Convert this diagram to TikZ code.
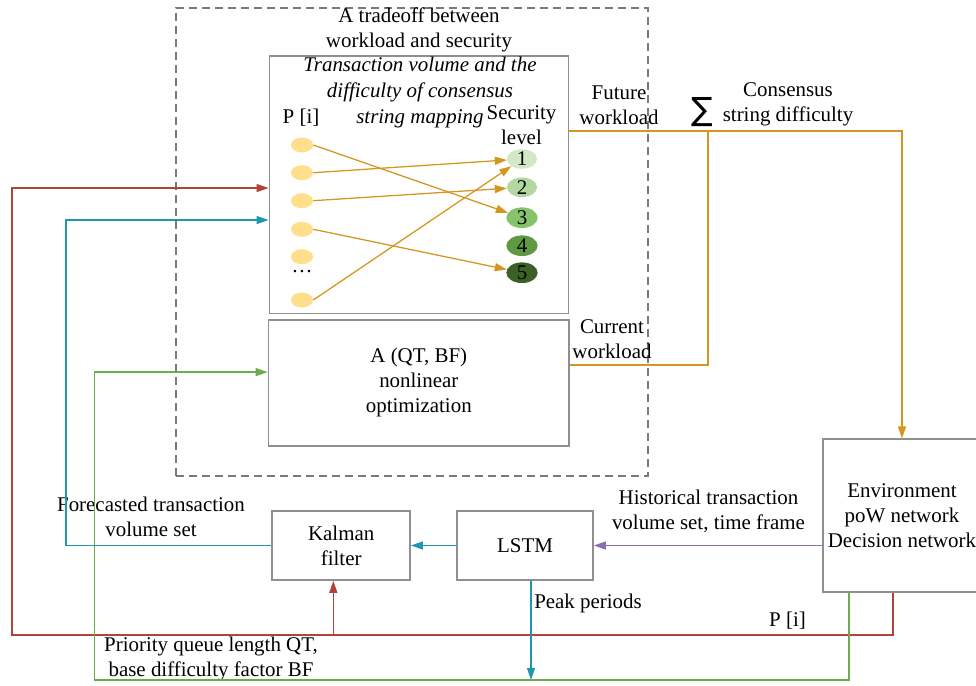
\documentclass[tikz,border=0pt]{standalone}
\usepackage{fontspec}
\setmainfont{Liberation Serif}
\newfontfamily\symfont{DejaVu Sans}
\usetikzlibrary{arrows.meta,calc,shapes.geometric}

\definecolor{framegray}{HTML}{8F8F8F}
\definecolor{dashgray}{HTML}{7A7A7A}
\definecolor{cOrange}{HTML}{D4961E}
\definecolor{cRed}{HTML}{B0443A}
\definecolor{cTeal}{HTML}{1E98AC}
\definecolor{cGreen}{HTML}{6EAA50}
\definecolor{cPurple}{HTML}{8C6EAF}
\definecolor{cYellow}{HTML}{FFDF8C}
\definecolor{lvA}{HTML}{D3E8C5}
\definecolor{lvB}{HTML}{B2D8A0}
\definecolor{lvC}{HTML}{86C46C}
\definecolor{lvD}{HTML}{5E9A42}
\definecolor{lvE}{HTML}{3B6126}

\begin{document}
\begin{tikzpicture}[x=0.75pt,y=-0.75pt,
  font=\fontsize{15.7pt}{18.75pt}\selectfont,
  gbox/.style={draw=framegray,line width=1.3pt,rectangle,inner sep=0pt,align=center},
  lbl/.style={inner sep=0pt,align=center},
  tip/.style={-{Triangle[length=9pt,width=6pt]}},
  oline/.style={draw=cOrange,line width=0.95pt},
  rline/.style={draw=cRed,line width=0.95pt,color=cRed},
  tline/.style={draw=cTeal,line width=0.95pt,color=cTeal},
  gline/.style={draw=cGreen,line width=0.95pt,color=cGreen},
  pline/.style={draw=cPurple,line width=0.95pt,color=cPurple},
  pdot/.style={ellipse,fill=cYellow,inner sep=0pt,minimum width=16.5pt,minimum height=11.25pt},
  lvsmall/.style={ellipse,inner sep=0pt,minimum width=22.5pt,minimum height=11.5pt},
  lvbig/.style={ellipse,inner sep=0pt,minimum width=23.5pt,minimum height=15.5pt},
  arr/.style={draw=cOrange,color=cOrange,line width=0.95pt,tip}]

\useasboundingbox (0,0) rectangle (976,686);

% dashed frame around the tradeoff stage
\node[draw=dashgray,line width=0.9pt,dash pattern=on 6pt off 3.75pt,
      minimum width=354pt,minimum height=351pt,inner sep=0pt] (frame) at (412,242) {};
\node[lbl] (ttl) at (419,30) {A tradeoff between\\workload and security};

% mapping box and optimisation box
\node[gbox,minimum width=224.3pt,minimum height=193pt] (map) at (419,184.7) {};
\node[gbox,minimum width=225.4pt,minimum height=94.3pt] (opt) at (418.8,382.9)
  {A (QT, BF)\\nonlinear\\optimization};
\node[lbl,font=\fontsize{15.7pt}{19.2pt}\selectfont\itshape] (maptxt) at (420,92.5)
  {Transaction volume and the\\difficulty of consensus\\string mapping};
\node[lbl] (pi) at (301,118) {P [i]};
\node[lbl] (sec) at (521.5,125) {Security\\level};

% transaction priorities
\node[pdot] (p1) at (302,145) {};
\node[pdot] (p2) at (302,172.7) {};
\node[pdot] (p3) at (302,200.7) {};
\node[pdot] (p4) at (302,229.3) {};
\node[pdot] (p5) at (302,256.7) {};
\node[lbl] (pdots) at (302,272) {…};
\node[pdot] (p6) at (302,300) {};

% security levels
\node[lvsmall,fill=lvA] (s1) at (522,159) {1};
\node[lvsmall,fill=lvB] (s2) at (522,187.3) {2};
\node[lvbig,fill=lvC] (s3) at (522,217.7) {3};
\node[lvbig,fill=lvD] (s4) at (522,245.7) {4};
\node[lvbig,fill=lvE] (s5) at (522,272.7) {5};

\draw[arr] (p1.east) -- (s3);
\draw[arr] (p2.east) -- (s1);
\draw[arr] (p3.east) -- (s2);
\draw[arr] (p4.east) -- (s5);
\draw[arr] (p6.east) -- (s1);

% lower pipeline boxes
\node[gbox,minimum width=118pt,minimum height=114.3pt] (env) at (902,515.5)
  {Environment\\poW network\\Decision network};
\node[gbox,minimum width=102pt,minimum height=51.75pt] (lstm) at (525,545.5) {LSTM};
\node[gbox,minimum width=103.3pt,minimum height=51.75pt] (kal) at (341.2,545.5) {Kalman\\filter};

% labels of the connectors
\node[lbl] (fut) at (619,105) {Future\\workload};
\node[lbl,font=\fontsize{24pt}{24pt}\selectfont\symfont] (sig) at (702.5,112) {∑};
\node[lbl] (cons) at (788,104) {Consensus\\string difficulty};
\node[lbl] (cur) at (612,339) {Current\\workload};
\node[lbl] (hist) at (708.5,511) {Historical transaction\\volume set, time frame};
\node[lbl,anchor=west] (peak) at (534,603) {Peak periods};
\node[lbl] (pib) at (787.5,621) {P [i]};
\node[lbl] (fore) at (151,517) {Forecasted transaction\\volume set};
\node[lbl] (prio) at (211,659) {Priority queue length QT,\\base difficulty factor BF};

% corner points of the feedback loops
\coordinate (fjoin) at (708,131);
\coordinate (rcorner) at (12,635);
\coordinate (tcorner) at (66,543);
\coordinate (gcorner) at (94.5,680);
\coordinate (kin) at ([xshift=-5.9pt]kal.south);
\coordinate (pk) at ([xshift=4.5pt]lstm.south);
\coordinate (rout) at ([xshift=-6.75pt]env.south);
\coordinate (gout) at ([xshift=-39.75pt]env.south);

% workload -> consensus difficulty -> environment
\draw[oline,tip,color=cOrange] ([yshift=40.3pt]map.east) -| (env.north);
\draw[oline] ([yshift=13.4pt]opt.east) -| (fjoin);

% environment feedback
\draw[pline,tip] (env.west |- lstm.east) -- (lstm.east);
\draw[rline,tip] (rout) |- (rcorner) |- ([yshift=-2.5pt]map.west);
\draw[rline,tip] (kin |- rcorner) -- (kin);
\draw[gline,tip] (gout) |- (gcorner) |- ([yshift=8.1pt]opt.west);

% forecasting chain
\draw[tline,tip] (lstm.west) -- (kal.east);
\draw[tline,tip] (kal.west) -- (kal.west -| tcorner) |- ([yshift=-26.5pt]map.west);
\draw[tline,tip] (pk) -- (pk |- gcorner);

\end{tikzpicture}
\end{document}
